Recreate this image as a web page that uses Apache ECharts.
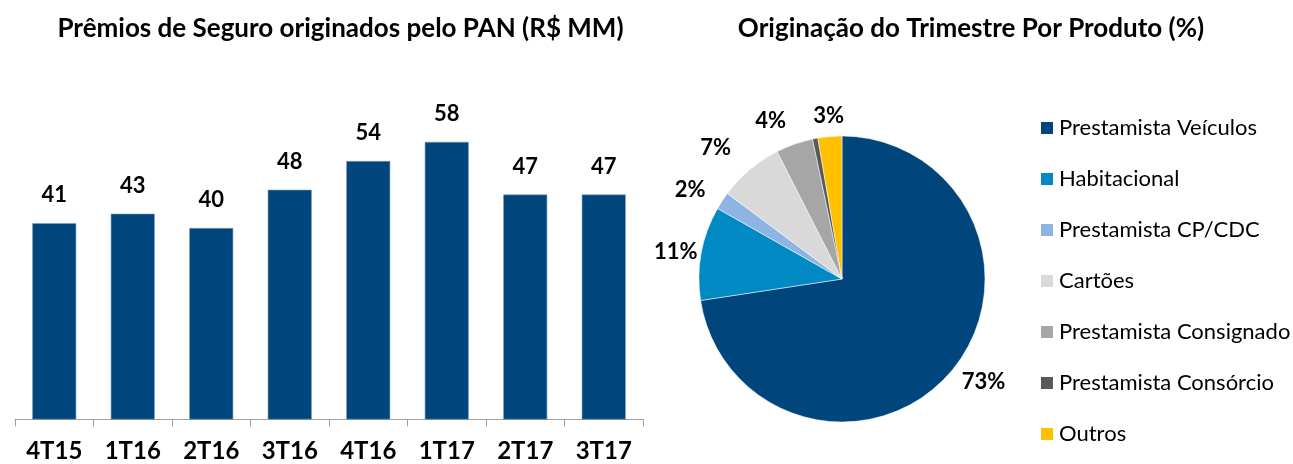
<!DOCTYPE html>
<html>
<head>
<meta charset="utf-8">
<script src="https://cdn.jsdelivr.net/npm/echarts@6/dist/echarts.min.js"></script>
<style>
html,body{margin:0;padding:0;background:#fff;}
#c{width:1293px;height:464px;}
</style>
</head>
<body>
<div id="c"></div>
<script>
const quarters = ['4T15','1T16','2T16','3T16','4T16','1T17','2T17','3T17'];
const premiums = [41, 43, 40, 48, 54, 58, 47, 47];
const products = ['Prestamista Veículos','Habitacional','Prestamista CP/CDC','Cartões','Prestamista Consignado','Prestamista Consórcio','Outros'];
const shares = [72.6, 10.6, 2.0, 7.3, 4.2, 0.6, 2.7];
const productColors = ['#00457c','#0089c3','#8db4e2','#d9d9d9','#a6a6a6','#595959','#ffc000'];

const FONT = 'Lato';
// label line lengths used only to place percentage labels around the pie
const labelLens = [[15,0],[4,0],[20,0],[29,0],[25,0],[0,0],[21,-16]];

const pieData = products.map((name, i) => ({
  name: name,
  value: shares[i],
  itemStyle: { color: productColors[i] },
  label: { show: name !== 'Prestamista Consórcio' },
  labelLine: { show: false, length: labelLens[i][0], length2: labelLens[i][1] }
}));

const chart = echarts.init(document.getElementById('c'), null, {renderer: 'canvas'});
chart.setOption({
  backgroundColor: '#ffffff',
  animation: false,
  title: [
    { text: 'Prêmios de Seguro originados pelo PAN (R$ MM)', left: 335.5, top: 11, textAlign: 'center',
      textStyle: { fontFamily: FONT, fontWeight: 'bold', fontSize: 26, color: '#000', lineHeight: 26 } },
    { text: 'Originação do Trimestre Por Produto (%)', left: 966, top: 11, textAlign: 'center',
      textStyle: { fontFamily: FONT, fontWeight: 'bold', fontSize: 26, color: '#000', lineHeight: 26 } }
  ],
  legend: {
    orient: 'vertical', left: 1034, top: 112, padding: 5,
    itemWidth: 14, itemHeight: 14, itemGap: 29,
    icon: 'rect', selectedMode: false,
    data: products,
    textStyle: { fontFamily: FONT, fontSize: 22, color: '#000' }
  },
  grid: { left: 15, right: 650, top: 132.3, bottom: 44.5, containLabel: false },
  xAxis: {
    type: 'category', data: quarters,
    axisLine: { show: true, lineStyle: { color: '#a0a0a0', width: 1 } },
    axisTick: { show: true, length: 7, interval: 0, alignWithLabel: false, lineStyle: { color: '#a0a0a0' } },
    axisLabel: { interval: 0, margin: 20, fontFamily: FONT, fontWeight: 'bold', fontSize: 24, color: '#000' }
  },
  yAxis: { type: 'value', min: 0, max: 60, show: false, splitLine: { show: false } },
  series: [
    {
      type: 'bar', data: premiums, barWidth: 44,
      itemStyle: { color: '#00457c', borderColor: '#7f9cbc', borderWidth: 0.6 },
      label: { show: true, position: 'top', distance: 17, fontFamily: FONT, fontWeight: 'bold', fontSize: 22, color: '#000' }
    },
    {
      type: 'pie', center: [842, 279], radius: 143, startAngle: 90, clockwise: true,
      avoidLabelOverlap: false,
      data: pieData,
      itemStyle: { borderColor: '#ffffff', borderWidth: 0.5 },
      label: { position: 'outside', distanceToLabelLine: 0, formatter: p => Math.round(p.value) + '%',
               fontFamily: FONT, fontWeight: 'bold', fontSize: 22, color: '#000' },
      labelLine: { show: false },
      emphasis: { disabled: true }
    }
  ]
});
</script>
</body>
</html>
